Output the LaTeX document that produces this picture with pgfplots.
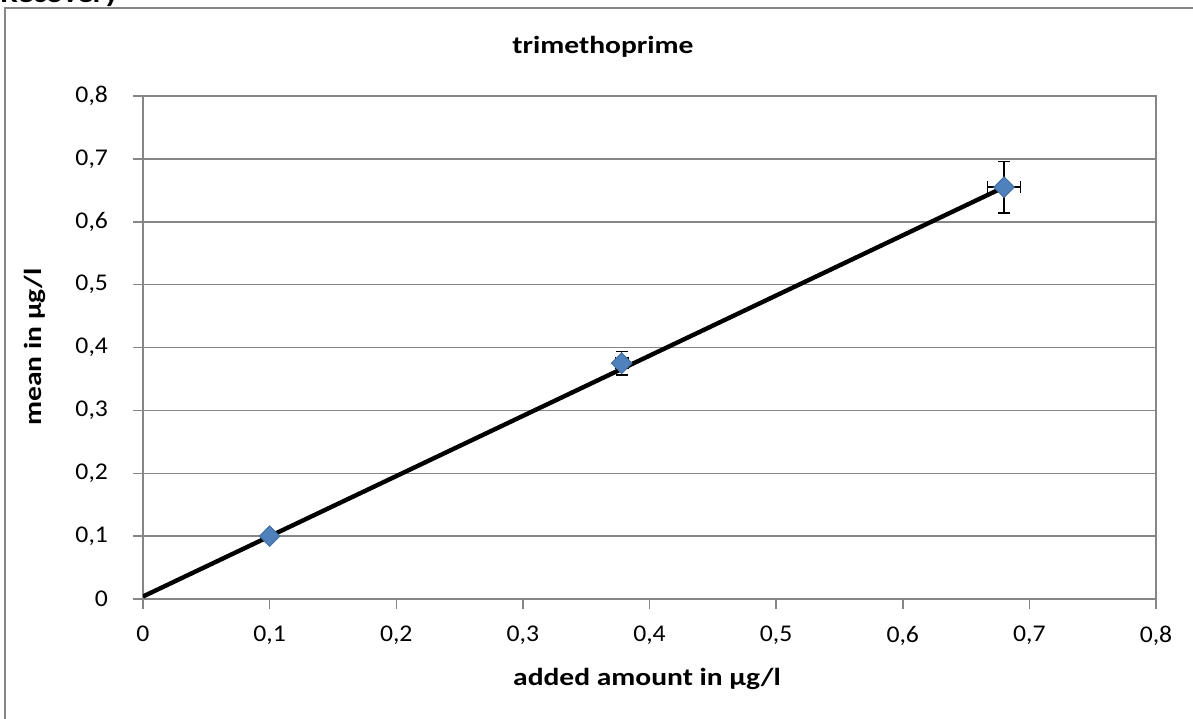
\documentclass[border=0pt]{standalone}
\usepackage{pgfplots}
\pgfplotsset{compat=1.18}
\usepackage{fontspec}
\setmainfont{Carlito}[FakeStretch=1.07]
\newfontfamily\wide{Carlito}[FakeStretch=1.2]
\definecolor{gridgray}{HTML}{868686}
\definecolor{markblue}{HTML}{4F81BD}
\begin{document}
\begin{tikzpicture}
\useasboundingbox (0pt,0pt) rectangle (596.5pt,359pt);
% outer chart frame (only left and top edges fall inside the picture)
\draw[gridgray, line width=1pt] (2.5pt,-5pt) -- (2.5pt,355pt) -- (605pt,355pt);
\node[anchor=base west, inner sep=0pt, font=\wide\bfseries\fontsize{13}{16}\selectfont] at (0pt,357.6pt) {Recovery};
\begin{axis}[
  at={(71.5pt,59.5pt)}, anchor=south west,
  scale only axis, width=506.5pt, height=251.5pt,
  xmin=0, xmax=0.8, ymin=0, ymax=0.8,
  xtick={0,0.1,0.2,0.3,0.4,0.5,0.6,0.7,0.8},
  ytick={0,0.1,0.2,0.3,0.4,0.5,0.6,0.7,0.8},
  xtick pos=left, ytick pos=left,
  tick align=outside, major tick length=5pt,
  ymajorgrids,
  grid style={gridgray, line width=0.75pt},
  axis line style={gridgray, line width=0.75pt},
  tick style={gridgray, line width=0.75pt},
  ticklabel style={font=\fontsize{12}{14}\selectfont, text=black},
  yticklabel style={xshift=-9pt},
  xticklabel style={yshift=-5pt},
  /pgf/number format/.cd, use comma, fixed, precision=1, assume math mode=true,
]
\addplot[black, line width=2.2pt, no marks] coordinates {(0,0.004) (0.68,0.655)};
\addplot[only marks, mark=square*, mark size=3.6pt,
  mark options={rotate=45, fill=markblue, draw=markblue!85!black, line width=0.5pt},
  error bars/.cd, x dir=both, x explicit, y dir=both, y explicit,
  error bar style={black, line width=0.75pt},
  error mark options={rotate=90, black, mark size=3pt, line width=0.75pt}]
  coordinates {
    (0.1,0.1) +- (0.001,0.001)
    (0.378,0.375) +- (0.005,0.019)
    (0.68,0.655) +- (0.013,0.041)
  };
\end{axis}
\node[font=\wide\bfseries\fontsize{12.3}{15}\selectfont] at (301.5pt,335.5pt) {trimethoprime};
\node[rotate=90, font=\wide\bfseries\fontsize{12.3}{15}\selectfont] at (17.5pt,185.5pt) {mean in µg/l};
\node[font=\wide\bfseries\fontsize{12.3}{15}\selectfont] at (323.5pt,19.5pt) {added amount in µg/l};
\end{tikzpicture}
\end{document}
